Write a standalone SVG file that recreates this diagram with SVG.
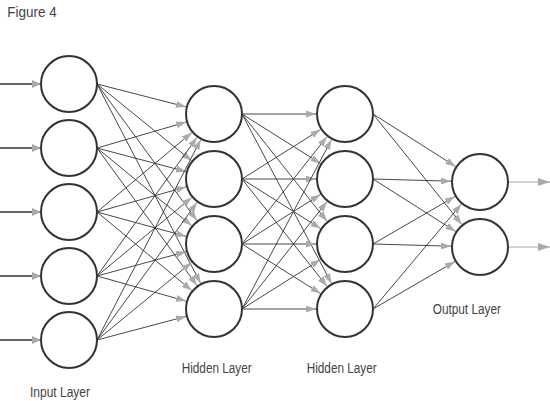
<svg xmlns="http://www.w3.org/2000/svg" width="550" height="401" viewBox="0 0 550 401">
<style>
.node{fill:#fff;stroke:#333;stroke-width:2}
.c{stroke:#333;stroke-width:0.9;fill:none;marker-end:url(#ah)}
.in{stroke:#333;stroke-width:1.6;fill:none;marker-end:url(#ahIn)}
.out{stroke:#aaa;stroke-width:1.2;fill:none;marker-end:url(#ahOut)}
.lbl{font-family:"Liberation Sans Narrow","Liberation Sans",Arial,sans-serif;font-size:15.5px;fill:#444}
</style>
<defs>
<marker id="ah" viewBox="0 0 10 7" refX="10" refY="3.5" markerWidth="10" markerHeight="7" markerUnits="userSpaceOnUse" orient="auto"><path d="M0,0 L10,3.5 L0,7 z" fill="#aaa"/></marker>
<marker id="ahIn" viewBox="0 0 9 8" refX="9" refY="4" markerWidth="9" markerHeight="8" markerUnits="userSpaceOnUse" orient="auto"><path d="M0,0 L9,4 L0,8 z" fill="#aaa"/></marker>
<marker id="ahOut" viewBox="0 0 12 8" refX="12" refY="4" markerWidth="12" markerHeight="8" markerUnits="userSpaceOnUse" orient="auto"><path d="M0,0 L12,4 L0,8 z" fill="#aaa"/></marker>
</defs>
<rect width="550" height="401" fill="#fff"/>
<text class="lbl" x="7.3" y="16.5" font-size="16.5" textLength="49.4" lengthAdjust="spacingAndGlyphs">Figure 4</text>
<g id="connectors">
<path class="in" d="M0,84 H41"/>
<path class="in" d="M0,148 H41"/>
<path class="in" d="M0,212 H41"/>
<path class="in" d="M0,276 H41"/>
<path class="in" d="M0,340 H41"/>
<path class="c" d="M97,84 L185.9,106.8"/>
<path class="c" d="M97,84 L191.5,160.7"/>
<path class="c" d="M97,84 L196.9,220.6"/>
<path class="c" d="M97,84 L200.6,283.3"/>
<path class="c" d="M97,148 L186.2,122.1"/>
<path class="c" d="M97,148 L186,171.6"/>
<path class="c" d="M97,148 L191.6,225.6"/>
<path class="c" d="M97,148 L197,285.5"/>
<path class="c" d="M97,212 L191.8,132.6"/>
<path class="c" d="M97,212 L186.1,186.9"/>
<path class="c" d="M97,212 L186,236.3"/>
<path class="c" d="M97,212 L191.7,290.5"/>
<path class="c" d="M97,276 L197,137.5"/>
<path class="c" d="M97,276 L191.7,197.5"/>
<path class="c" d="M97,276 L186,251.7"/>
<path class="c" d="M97,276 L186.1,301.1"/>
<path class="c" d="M97,340 L200.7,139.8"/>
<path class="c" d="M97,340 L197,202.5"/>
<path class="c" d="M97,340 L191.6,262.4"/>
<path class="c" d="M97,340 L186,316.4"/>
<path class="c" d="M242,114 L316,114"/>
<path class="c" d="M242,114 L320.5,163.5"/>
<path class="c" d="M242,114 L327,221.3"/>
<path class="c" d="M242,114 L331.5,283.4"/>
<path class="c" d="M242,179 L320.5,129.5"/>
<path class="c" d="M242,179 L316,179"/>
<path class="c" d="M242,179 L320.5,228.5"/>
<path class="c" d="M242,179 L327,286.3"/>
<path class="c" d="M242,244 L327,136.7"/>
<path class="c" d="M242,244 L320.5,194.5"/>
<path class="c" d="M242,244 L316,244"/>
<path class="c" d="M242,244 L320.5,293.5"/>
<path class="c" d="M242,309 L331.5,139.6"/>
<path class="c" d="M242,309 L327,201.7"/>
<path class="c" d="M242,309 L320.5,259.5"/>
<path class="c" d="M242,309 L316,309"/>
<path class="c" d="M373,114 L455.5,166.4"/>
<path class="c" d="M373,114 L461.8,224.4"/>
<path class="c" d="M373,179 L451,181.2"/>
<path class="c" d="M373,179 L455.5,231.4"/>
<path class="c" d="M373,244 L454.9,196.5"/>
<path class="c" d="M373,244 L451,246.2"/>
<path class="c" d="M373,309 L461.3,204.2"/>
<path class="c" d="M373,309 L454.9,261.5"/>
<path class="out" d="M508,182 H550"/>
<path class="out" d="M508,247 H550"/>
</g>
<g id="in1"><circle class="node" cx="69" cy="84" r="28"/></g>
<g id="in2"><circle class="node" cx="69" cy="148" r="28"/></g>
<g id="in3"><circle class="node" cx="69" cy="212" r="28"/></g>
<g id="in4"><circle class="node" cx="69" cy="276" r="28"/></g>
<g id="in5"><circle class="node" cx="69" cy="340" r="28"/></g>
<g id="h1a"><circle class="node" cx="214" cy="114" r="28"/></g>
<g id="h1b"><circle class="node" cx="214" cy="179" r="28"/></g>
<g id="h1c"><circle class="node" cx="214" cy="244" r="28"/></g>
<g id="h1d"><circle class="node" cx="214" cy="309" r="28"/></g>
<g id="h2a"><circle class="node" cx="345" cy="114" r="28"/></g>
<g id="h2b"><circle class="node" cx="345" cy="179" r="28"/></g>
<g id="h2c"><circle class="node" cx="345" cy="244" r="28"/></g>
<g id="h2d"><circle class="node" cx="345" cy="309" r="28"/></g>
<g id="o1"><circle class="node" cx="480" cy="182" r="28"/></g>
<g id="o2"><circle class="node" cx="480" cy="247" r="28"/></g>
<g id="labels">
<text class="lbl" x="30" y="397.3" textLength="60" lengthAdjust="spacingAndGlyphs">Input Layer</text>
<text class="lbl" x="181.7" y="373" textLength="70" lengthAdjust="spacingAndGlyphs">Hidden Layer</text>
<text class="lbl" x="306.7" y="373" textLength="70" lengthAdjust="spacingAndGlyphs">Hidden Layer</text>
<text class="lbl" x="432.7" y="313.5" textLength="68.3" lengthAdjust="spacingAndGlyphs">Output Layer</text>
</g>
</svg>
